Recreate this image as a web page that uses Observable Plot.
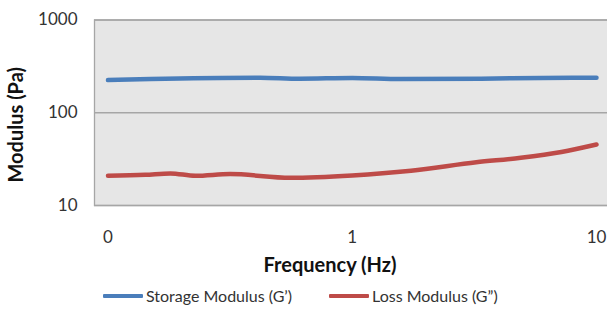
<!DOCTYPE html>
<html>
<head>
<meta charset="utf-8">
<script src="https://cdn.jsdelivr.net/npm/d3@7"></script>
<script src="https://cdn.jsdelivr.net/npm/@observablehq/plot@0.6"></script>
<style>
  html, body { margin: 0; padding: 0; background: #fff; }
  body { width: 607px; height: 321px; overflow: hidden; font-family: Lato, "Open Sans", sans-serif; }
  #legend { height: 39px; position: relative; font-size: 16px; color: #333; }
  .item { position: absolute; top: 4px; display: flex; align-items: center; }
  .swatch { width: 40px; height: 4px; border-radius: 1px; margin-right: 3px; }
</style>
</head>
<body>
<div id="chart"></div>
<div id="legend"></div>
<script>
// Frequencies (Hz)
const storageFreq = [0.1, 0.149, 0.42, 0.61, 1.0, 1.58, 3.37, 5.94, 10];
const storageG = [225, 231, 239, 233, 237, 231, 233, 237, 239];

const lossFreq = [0.1, 0.142, 0.18, 0.228, 0.316, 0.558, 1.0, 1.74, 3.22, 4.9, 7.18, 10];
const lossG = [20.9, 21.4, 22.2, 20.9, 21.8, 19.9, 21.1, 23.7, 29.2, 32.7, 37.8, 45.5];

const seriesNames = ["Storage Modulus (G\u2019)", "Loss Modulus (G\u201D)"];
const seriesColors = ["#4a7ebb", "#be4b48"];

const xTicks = [0.1, 1, 10];
const xTickLabels = ["0", "1", "10"];
const yTicks = [10, 100, 1000];
const yTickLabels = ["10", "100", "1000"];

const storage = storageFreq.map((f, i) => ({f, g: storageG[i], s: seriesNames[0]}));
const loss = lossFreq.map((f, i) => ({f, g: lossG[i], s: seriesNames[1]}));

const chart = Plot.plot({
  width: 607,
  height: 282,
  marginLeft: 94,
  marginRight: -2,
  marginTop: 19.5,
  marginBottom: 77,
  style: {fontFamily: "Lato, 'Open Sans', sans-serif", fontSize: "17px", color: "#333", background: "#fff"},
  x: {type: "log", domain: [0.1, 10], range: [107.5, 596]},
  y: {type: "log", domain: [10, 1000]},
  color: {domain: seriesNames, range: seriesColors},
  marks: [
    Plot.frame({fill: "#e6e6e6", stroke: "#a6a6a6", strokeWidth: 1.3}),
    Plot.ruleY(yTicks, {stroke: "#a6a6a6", strokeWidth: 1.3}),
    Plot.axisX(xTicks, {tickSize: 0, tickPadding: 25, tickFormat: d => xTickLabels[xTicks.indexOf(d)], fontSize: 17, label: null, fill: "#333"}),
    Plot.axisY(yTicks, {tickSize: 0, tickPadding: 17, tickFormat: d => yTickLabels[yTicks.indexOf(d)], fontSize: 17, label: null, fill: "#333"}),
    Plot.lineY(storage, {x: "f", y: "g", stroke: "s", strokeWidth: 4.5, curve: "monotone-x"}),
    Plot.lineY(loss, {x: "f", y: "g", stroke: "s", strokeWidth: 4.5, curve: "monotone-x"}),
    Plot.text(["Frequency (Hz)"], {frameAnchor: "bottom", dy: 66, dx: -22, fontWeight: "bold", fontSize: 20, fill: "#111"}),
    Plot.text(["Modulus (Pa)"], {frameAnchor: "left", textAnchor: "middle", dx: -78, dy: 12, rotate: -90, fontWeight: "bold", fontSize: 20, fill: "#111"})
  ]
});
document.getElementById("chart").appendChild(chart);

const legend = document.getElementById("legend");
const lefts = [103, 329];
seriesNames.forEach((name, i) => {
  const item = document.createElement("div");
  item.className = "item";
  item.style.left = lefts[i] + "px";
  const sw = document.createElement("span");
  sw.className = "swatch";
  sw.style.background = seriesColors[i];
  const tx = document.createElement("span");
  tx.textContent = name;
  item.appendChild(sw);
  item.appendChild(tx);
  legend.appendChild(item);
});
</script>
</body>
</html>
